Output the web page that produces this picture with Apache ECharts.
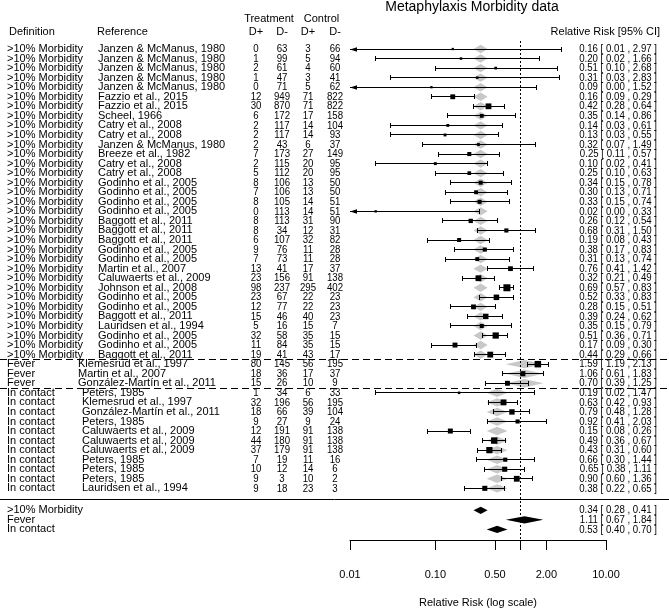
<!DOCTYPE html>
<html><head><meta charset="utf-8">
<script src="https://cdn.jsdelivr.net/npm/echarts@6/dist/echarts.min.js"></script>
<style>html,body{margin:0;padding:0;background:#fff}#c{width:669px;height:613px}</style>
</head><body><div id="c"></div>
<script>
// ---------------- data ----------------
const groups = ['>10% Morbidity', 'Fever', 'In contact'];
const groupOfRow = [0,0,0,0,0,0,0,0,0,0,0,0,0,0,0,0,0,0,0,0,0,0,0,0,0,0,0,0,0,0,0,0,0,
                    1,1,1,
                    2,2,2,2,2,2,2,2,2,2,2];
const references = [
  'Janzen & McManus, 1980','Janzen & McManus, 1980','Janzen & McManus, 1980','Janzen & McManus, 1980','Janzen & McManus, 1980',
  'Fazzio et al., 2015','Fazzio et al., 2015','Scheel, 1966','Catry et al., 2008','Catry et al., 2008',
  'Janzen & McManus, 1980','Breeze et al., 1982','Catry et al., 2008','Catry et al., 2008',
  'Godinho et al., 2005','Godinho et al., 2005','Godinho et al., 2005','Godinho et al., 2005',
  'Baggott et al., 2011','Baggott et al., 2011','Baggott et al., 2011','Godinho et al., 2005','Godinho et al., 2005',
  'Martin et al., 2007','Caluwaerts et al., 2009','Johnson et al., 2008','Godinho et al., 2005','Godinho et al., 2005',
  'Baggott et al., 2011','Lauridsen et al., 1994','Godinho et al., 2005','Godinho et al., 2005','Baggott et al., 2011',
  'Klemesrud et al., 1997','Martin et al., 2007','González-Martín et al., 2011',
  'Peters, 1985','Klemesrud et al., 1997','González-Martín et al., 2011','Peters, 1985',
  'Caluwaerts et al., 2009','Caluwaerts et al., 2009','Caluwaerts et al., 2009',
  'Peters, 1985','Peters, 1985','Peters, 1985','Lauridsen et al., 1994'
];
const treatPos = [0,1,2,1,0,12,30,6,2,2,2,7,2,5,8,7,8,0,8,8,6,9,7,13,23,98,23,12,15,5,32,11,19, 80,18,15, 1,32,18,9,12,44,37,7,10,9,9];
const treatNeg = [63,99,61,47,71,949,870,172,117,117,43,173,115,112,106,106,105,113,113,34,107,76,73,41,156,237,67,77,46,16,58,84,41, 145,36,26, 34,196,66,27,191,180,179,19,12,3,18];
const ctrlPos  = [3,5,4,3,5,71,71,17,14,14,6,27,20,20,13,13,14,14,31,12,32,11,11,17,91,295,22,22,40,15,35,35,43, 56,17,10, 6,56,39,9,91,91,91,11,14,10,23];
const ctrlNeg  = [66,94,60,41,62,822,822,158,104,93,37,149,95,95,50,50,51,51,90,31,82,28,28,37,138,402,23,23,23,7,15,15,17, 195,37,9, 33,195,104,24,138,138,138,16,6,2,3];
const rr   = [0.16,0.20,0.51,0.31,0.09,0.16,0.42,0.35,0.14,0.13,0.32,0.25,0.10,0.25,0.34,0.30,0.33,0.02,0.26,0.68,0.19,0.38,0.31,0.76,0.32,0.69,0.52,0.28,0.39,0.35,0.51,0.17,0.44, 1.59,1.06,0.70, 0.19,0.63,0.79,0.92,0.15,0.49,0.43,0.66,0.65,0.90,0.38];
const ciLow  = [0.01,0.02,0.10,0.03,0.00,0.09,0.28,0.14,0.03,0.03,0.07,0.11,0.02,0.10,0.15,0.13,0.15,0.00,0.12,0.31,0.08,0.17,0.13,0.41,0.21,0.57,0.33,0.15,0.24,0.15,0.36,0.09,0.29, 1.19,0.61,0.39, 0.02,0.42,0.48,0.41,0.08,0.36,0.31,0.30,0.38,0.60,0.22];
const ciHigh = [2.97,1.66,2.68,2.83,1.52,0.29,0.64,0.86,0.61,0.55,1.49,0.57,0.41,0.63,0.78,0.71,0.74,0.33,0.54,1.50,0.43,0.83,0.74,1.42,0.49,0.83,0.83,0.51,0.62,0.79,0.71,0.30,0.66, 2.13,1.83,1.25, 1.47,0.93,1.28,2.03,0.26,0.67,0.60,1.44,1.11,1.36,0.65];
const summaryRR   = [0.34, 1.11, 0.53];
const summaryLow  = [0.28, 0.67, 0.40];
const summaryHigh = [0.41, 1.84, 0.70];
const tickValues = [0.01, 0.1, 0.5, 1, 2, 10];
const tickLabels = [0.01, 0.1, 0.5, 2, 10];

// ---------------- layout ----------------
const FF = '"Liberation Sans", Arial, Helvetica, sans-serif';
const FONT = '11px ' + FF;
const NUMFONT = '11.5px ' + FF;
const NUMSCALE = 0.84;
const AXMIN = 0.01, AXMAX = 10;
const colDef = 7;
const colRef = [98, 78, 82];
const colNum = [256, 282, 308, 335];
const colAnnot = 657;
const yMin = 0.162, yMax = 52.41;     // row units mapped to grid top/bottom
const summaryRow0 = 49.3;
const solidRow = 48.12;

const lg = v => Math.log10(v);
const f2 = v => v.toFixed(2);
const annot = (e, l, h) => f2(e) + ' [ ' + f2(l) + ' , ' + f2(h) + ' ]';

// marker size from study precision (derived from counts)
function vlog(a, b, c, d) {
  if (a === 0 || b === 0 || c === 0 || d === 0) { a += .5; b += .5; c += .5; d += .5; }
  return 1 / a - 1 / (a + b) + 1 / c - 1 / (c + d);
}
const wts = treatPos.map((a, i) => 1 / (vlog(a, treatNeg[i], ctrlPos[i], ctrlNeg[i]) + 0.1));
const wMin = Math.min(...wts), wMax = Math.max(...wts);
const sizes = wts.map(w => 2.3 + 4.7 * (w - wMin) / (wMax - wMin));

const forestData = rr.map((e, i) => [
  i + 1, lg(e), lg(Math.max(ciLow[i], AXMIN)), lg(ciHigh[i]), groupOfRow[i], sizes[i], ciLow[i] <= AXMIN ? 1 : 0
]);
const summaryData = summaryRR.map((e, g) => [summaryRow0 + g, lg(e), lg(summaryLow[g]), lg(summaryHigh[g])]);
const tableData = rr.map((e, i) => [0, i + 1, i]);
const summaryTable = summaryRR.map((e, g) => [0, summaryRow0 + g, g]);

// separators between definition groups
const sepRows = [];
for (let i = 1; i < groupOfRow.length; i++) if (groupOfRow[i] !== groupOfRow[i - 1]) sepRows.push(i + 0.5);

const crisp = v => Math.round(v - 0.5) + 0.5;
const txt = (x, y, text, align, font, sx) => ({
  type: 'text', x: x, y: y, scaleX: sx || 1,
  style: {text: String(text), font: font || FONT, fill: '#000', align: align, verticalAlign: 'middle', textAlign: align, textVerticalAlign: 'middle'}
});

const chart = echarts.init(document.getElementById('c'), null, {renderer: 'canvas'});
chart.setOption({
  animation: false,
  backgroundColor: '#fff',
  grid: [
    {left: 350, right: 63, top: 41, bottom: 73, containLabel: false},
    {left: 0, right: 0, top: 41, bottom: 73, containLabel: false}
  ],
  xAxis: [
    {
      type: 'value', gridIndex: 0, min: lg(AXMIN), max: lg(AXMAX),
      axisLine: {show: true, onZero: false, lineStyle: {color: '#000', width: 1}},
      axisTick: {show: true, inside: false, length: 10, customValues: tickValues.map(lg), lineStyle: {color: '#000', width: 1}},
      axisLabel: {show: true, customValues: tickLabels.map(lg), margin: 29, color: '#000', fontSize: 11, fontFamily: FF,
        formatter: v => f2(Math.pow(10, v))},
      splitLine: {show: false},
      name: 'Relative Risk (log scale)', nameLocation: 'middle', nameGap: 57,
      nameTextStyle: {color: '#000', fontSize: 11, fontFamily: FF}
    },
    {type: 'value', gridIndex: 1, min: 0, max: 669, show: false}
  ],
  yAxis: [
    {type: 'value', gridIndex: 0, inverse: true, min: yMin, max: yMax, show: false},
    {type: 'value', gridIndex: 1, inverse: true, min: yMin, max: yMax, show: false}
  ],
  graphic: [
    txt(472, 7, 'Metaphylaxis Morbidity data', 'center', '14px ' + FF),
    txt((colNum[0] + colNum[1]) / 2, 19, 'Treatment', 'center'),
    txt((colNum[2] + colNum[3]) / 2, 19, 'Control', 'center'),
    txt(9, 32, 'Definition', 'left'),
    txt(97, 32, 'Reference', 'left'),
    txt(colNum[0], 32, 'D+', 'center'),
    txt(colNum[1], 32, 'D-', 'center'),
    txt(colNum[2], 32, 'D+', 'center'),
    txt(colNum[3], 32, 'D-', 'center'),
    txt(660, 32, 'Relative Risk [95% CI]', 'right')
  ],
  series: [
    {
      type: 'custom', name: 'studies', xAxisIndex: 0, yAxisIndex: 0, coordinateSystem: 'cartesian2d',
      encode: {x: 1, y: 0}, clip: false, z: 2,
      data: forestData,
      renderItem: function (params, api) {
        const r = api.value(0), e = api.value(1), l = api.value(2), h = api.value(3);
        const g = api.value(4), s = api.value(5), arrow = api.value(6);
        const X = v => api.coord([v, r])[0];
        const yRaw = api.coord([0, r])[1];
        const y = crisp(yRaw);
        const gl = X(lg(summaryLow[g])), gh = X(lg(summaryHigh[g])), gc = X(lg(summaryRR[g]));
        const xl = X(l), xh = X(h), xc = X(e);
        const ch = [];
        ch.push({type: 'polygon', shape: {points: [[gl, yRaw], [gc, yRaw - 4.2], [gh, yRaw], [gc, yRaw + 4.2]]}, style: {fill: '#c8c8c8'}});
        ch.push({type: 'line', shape: {x1: xl, y1: y, x2: xh, y2: y}, style: {stroke: '#000', lineWidth: 1}});
        ch.push({type: 'line', shape: {x1: crisp(xh), y1: y - 2.5, x2: crisp(xh), y2: y + 2.5}, style: {stroke: '#000', lineWidth: 1}});
        if (arrow) {
          ch.push({type: 'polygon', shape: {points: [[xl, y], [xl + 7, y - 2.3], [xl + 7, y + 2.3]]}, style: {fill: '#000'}});
        } else {
          ch.push({type: 'line', shape: {x1: crisp(xl), y1: y - 2.5, x2: crisp(xl), y2: y + 2.5}, style: {stroke: '#000', lineWidth: 1}});
        }
        ch.push({type: 'rect', shape: {x: xc - s / 2, y: yRaw - s / 2, width: s, height: s}, style: {fill: '#000'}});
        return {type: 'group', children: ch};
      },
      markLine: {
        silent: true, symbol: 'none', label: {show: false}, animation: false,
        lineStyle: {type: [2, 2], color: '#000', width: 1},
        data: [{xAxis: 0}]
      }
    },
    {
      type: 'custom', name: 'summary', xAxisIndex: 0, yAxisIndex: 0, coordinateSystem: 'cartesian2d',
      encode: {x: 1, y: 0}, clip: false, z: 3,
      data: summaryData,
      renderItem: function (params, api) {
        const r = api.value(0);
        const X = v => api.coord([v, r])[0];
        const y = api.coord([0, r])[1];
        const xl = X(api.value(2)), xh = X(api.value(3)), xc = X(api.value(1));
        return {type: 'polygon', shape: {points: [[xl, y], [xc, y - 3.6], [xh, y], [xc, y + 3.6]]}, style: {fill: '#000'}};
      }
    },
    {
      type: 'custom', name: 'table', xAxisIndex: 1, yAxisIndex: 1, coordinateSystem: 'cartesian2d',
      encode: {x: 0, y: 1}, clip: false, z: 1,
      data: tableData,
      renderItem: function (params, api) {
        const r = api.value(1), i = api.value(2);
        const g = groupOfRow[i];
        const y = api.coord([0, r])[1];
        const X = c => api.coord([c, r])[0];
        return {type: 'group', children: [
          txt(X(colDef), y, groups[g], 'left'),
          txt(X(colRef[g]), y, references[i], 'left'),
          txt(X(colNum[0]), y, treatPos[i], 'center', NUMFONT, NUMSCALE),
          txt(X(colNum[1]), y, treatNeg[i], 'center', NUMFONT, NUMSCALE),
          txt(X(colNum[2]), y, ctrlPos[i], 'center', NUMFONT, NUMSCALE),
          txt(X(colNum[3]), y, ctrlNeg[i], 'center', NUMFONT, NUMSCALE),
          txt(X(colAnnot), y, annot(rr[i], ciLow[i], ciHigh[i]), 'right', NUMFONT, NUMSCALE)
        ]};
      },
      markLine: {
        silent: true, symbol: 'none', label: {show: false}, animation: false,
        data: sepRows.map(v => ({yAxis: v, lineStyle: {type: [7, 4], color: '#000', width: 1}}))
          .concat([{yAxis: solidRow, lineStyle: {type: 'solid', color: '#000', width: 1}}])
      }
    },
    {
      type: 'custom', name: 'summaryTable', xAxisIndex: 1, yAxisIndex: 1, coordinateSystem: 'cartesian2d',
      encode: {x: 0, y: 1}, clip: false, z: 1,
      data: summaryTable,
      renderItem: function (params, api) {
        const r = api.value(1), g = api.value(2);
        const y = api.coord([0, r])[1];
        const X = c => api.coord([c, r])[0];
        return {type: 'group', children: [
          txt(X(colDef), y, groups[g], 'left'),
          txt(X(colAnnot), y, annot(summaryRR[g], summaryLow[g], summaryHigh[g]), 'right', NUMFONT, NUMSCALE)
        ]};
      }
    }
  ]
});
</script></body></html>
